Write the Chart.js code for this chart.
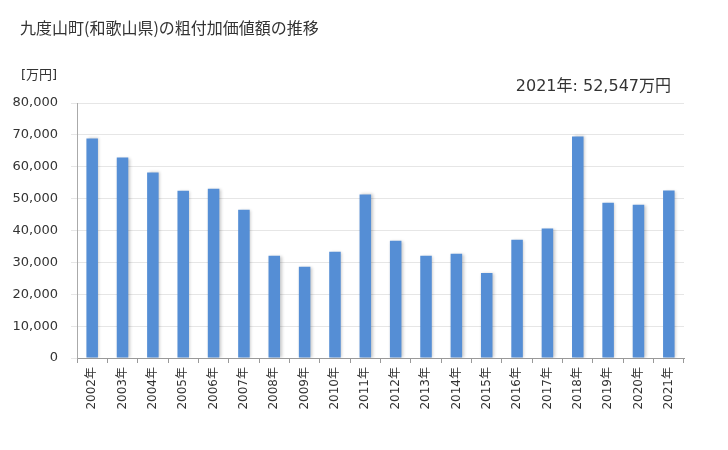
<!DOCTYPE html>
<html>
<head>
<meta charset="utf-8">
<script src="https://cdn.jsdelivr.net/npm/chart.js@4"></script>
<style>
  html, body { margin: 0; padding: 0; background: #fff; }
</style>
</head>
<body>
<canvas id="bar_chart" width="728" height="450"></canvas>
<script>
var years = ["2002年", "2003年", "2004年", "2005年", "2006年", "2007年", "2008年", "2009年", "2010年", "2011年",
             "2012年", "2013年", "2014年", "2015年", "2016年", "2017年", "2018年", "2019年", "2020年", "2021年"];
var values = [68900, 62900, 58200, 52500, 53100, 46500, 32100, 28600, 33300, 51300,
              36800, 32100, 32700, 26700, 37100, 40600, 69500, 48700, 48100, 52547];
var titleText = "九度山町(和歌山県)の粗付加価値額の推移";
var unitText = "[万円]";
var noteText = "2021年: 52,547万円";

var fontStack = "'DejaVu Sans', 'Noto Sans CJK JP', sans-serif";

var textPlugin = {
    id: "texts",
    afterDraw: function(chart) {
        var ctx = chart.ctx;
        ctx.save();
        ctx.fillStyle = "#333";
        ctx.textBaseline = "middle";
        ctx.textAlign = "left";
        ctx.font = "16px 'Noto Sans CJK JP', sans-serif";
        ctx.fillText(titleText, 20, 28);
        ctx.font = "13px 'DejaVu Sans', 'Noto Sans CJK JP', sans-serif";
        ctx.fillText(unitText, 21, 76);
        ctx.textAlign = "right";
        ctx.font = "16px " + fontStack;
        ctx.fillText(noteText, 671, 87);
        ctx.restore();
    }
};

// light grey halo to the right of each bar
var shadowPlugin = {
    id: "barShadow",
    beforeDatasetsDraw: function(chart) {
        var ctx = chart.ctx;
        ctx.save();
        ctx.shadowColor = "rgba(0, 0, 0, 0.22)";
        ctx.shadowBlur = 3;
        ctx.shadowOffsetX = 1.5;
        ctx.shadowOffsetY = 0;
    },
    afterDatasetsDraw: function(chart) {
        chart.ctx.restore();
    }
};

var ctx = document.getElementById("bar_chart");
var chart = new Chart(ctx, {
    type: "bar",
    data: {
        labels: years,
        datasets: [{
            label: "粗付加価値額",
            data: values,
            backgroundColor: "#558ed5",
            borderWidth: 0,
            barPercentage: 0.38,
            categoryPercentage: 1.0
        }]
    },
    options: {
        responsive: false,
        animation: false,
        devicePixelRatio: 1,
        layout: { padding: { left: 0, right: 44, top: 103, bottom: 0 } },
        plugins: {
            legend: { display: false },
            tooltip: { enabled: false }
        },
        scales: {
            x: {
                grid: {
                    offset: true,
                    drawOnChartArea: false,
                    drawTicks: true,
                    tickLength: 5,
                    color: "#999"
                },
                border: { color: "#999" },
                ticks: {
                    autoSkip: false,
                    minRotation: 90,
                    maxRotation: 90,
                    padding: 4,
                    color: "#333",
                    font: { family: fontStack, size: 12 }
                },
                afterFit: function(scale) { scale.height = 92; }
            },
            y: {
                min: 0,
                max: 80000,
                grid: {
                    color: "#e6e6e6",
                    tickLength: 6,
                    tickColor: "#e6e6e6"
                },
                border: { color: "#aaa" },
                ticks: {
                    stepSize: 10000,
                    padding: 13,
                    color: "#333",
                    font: { family: fontStack, size: 13 },
                    callback: function(v) { return v.toLocaleString("en-US"); }
                },
                afterFit: function(scale) { scale.width = 77; }
            }
        }
    },
    plugins: [shadowPlugin, textPlugin]
});
</script>
</body>
</html>
